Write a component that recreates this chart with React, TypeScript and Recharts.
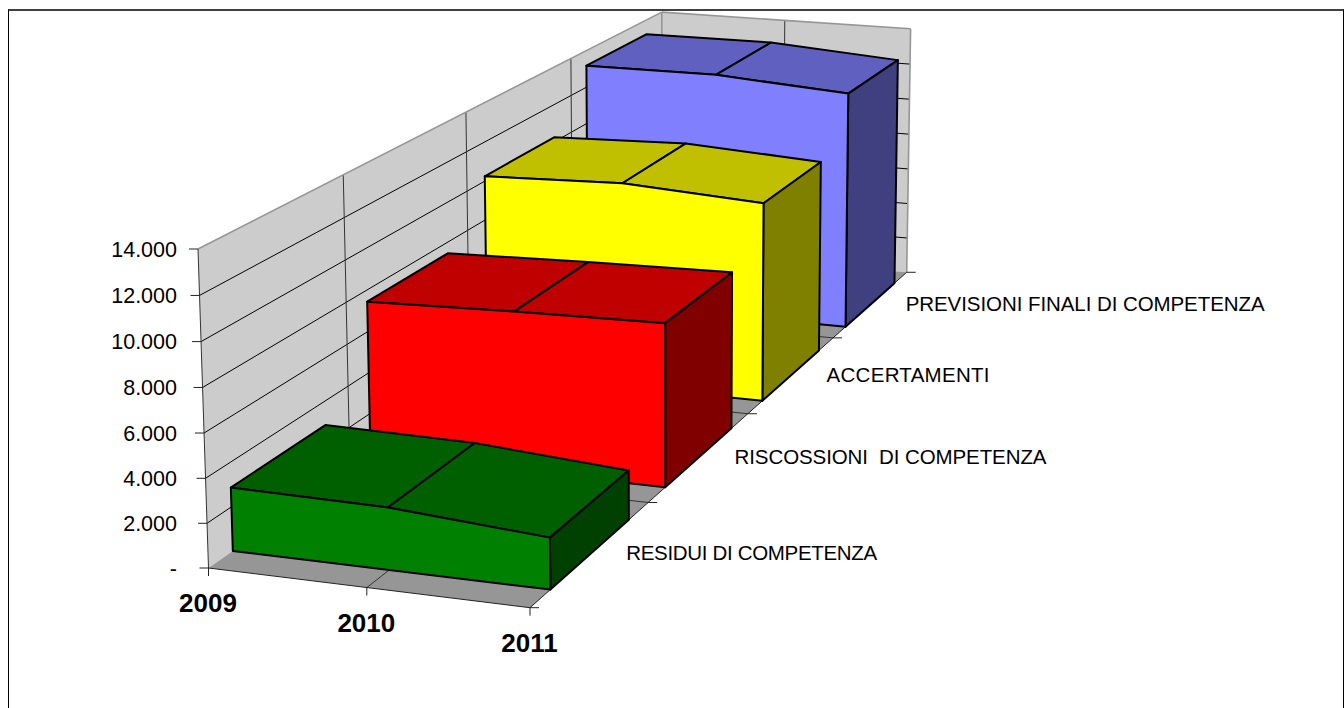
import { LineChart, Line, XAxis, YAxis } from "recharts";

const YEARS = ["2009", "2010", "2011"];
const RESIDUI = [2870, 2790, 2290];
const RISCOSSIONI = [7440, 7640, 7780];
const ACCERTAMENTI = [10250, 10480, 10065];
const PREVISIONI = [13180, 13190, 12700];
const VALUE_TICKS = [0, 2000, 4000, 6000, 8000, 10000, 12000, 14000];
const SERIES_NAMES = [
  "RESIDUI DI COMPETENZA",
  "RISCOSSIONI  DI COMPETENZA",
  "ACCERTAMENTI",
  "PREVISIONI FINALI DI COMPETENZA",
];
const SERIES_KEYS = ["residui", "riscossioni", "accertamenti", "previsioni"];

// front, top, side
const COLORS = [
  ["#008000", "#006000", "#004000"],
  ["#ff0000", "#c00000", "#800000"],
  ["#ffff00", "#c0c000", "#808000"],
  ["#8080ff", "#6060c0", "#404080"],
];

// the source squeezes its labels unevenly, so each one gets its own length
const LABEL_LENGTHS = [251, 312, 163, 359];

const rows = YEARS.map((year, i) => ({
  year,
  residui: RESIDUI[i],
  riscossioni: RISCOSSIONI[i],
  accertamenti: ACCERTAMENTI[i],
  previsioni: PREVISIONI[i],
}));

const WIDTH = 1344;
const HEIGHT = 708;
const PLOT = { left: 208.5, right: 530, top: 249, bottom: 568 };
const MAX_VALUE = 14000;
const FONT = "'Liberation Sans', Arial, sans-serif";

// camera: images of the box corners plus a perspective factor per direction
const A = [208.5, 568];
const B = [530, 607.7];
const C = [198, 249];
const G = [662, 250.5];
const SU = 0.97;
const SV = 1.36;
const SW = 0.978;

function project(u: number, v: number, w: number) {
  const den = 1 + u * (SU - 1) + v * (SV - 1) + w * (SW - 1);
  const at = (k: number) =>
    (A[k] + u * (SU * B[k] - A[k]) + v * (SV * G[k] - A[k]) + w * (SW * C[k] - A[k])) / den;
  return [at(0), at(1)];
}

const toU = (x: number) => (x - PLOT.left) / (PLOT.right - PLOT.left);
const toW = (y: number) => (PLOT.bottom - y) / (PLOT.bottom - PLOT.top);
const path = (pts: number[][]) => pts.map((p) => p.join(",")).join(" ");

function Seg({ from, to, color = "#000", width = 1 }: any) {
  return <line x1={from[0]} y1={from[1]} x2={to[0]} y2={to[1]} stroke={color} strokeWidth={width} />;
}

function Walls() {
  const depthLines = [0.25, 0.5, 0.75];
  return (
    <g>
      <polygon points={path([project(0, 0, 0), project(0, 1, 0), project(0, 1, 1), project(0, 0, 1)])} fill="#cccccc" />
      <polygon points={path([project(0, 1, 0), project(1, 1, 0), project(1, 1, 1), project(0, 1, 1)])} fill="#cccccc" />
      <polygon points={path([project(0, 0, 0), project(1, 0, 0), project(1, 1, 0), project(0, 1, 0)])} fill="#969696" />
      {VALUE_TICKS.slice(1, -1).map((t) => (
        <g key={t}>
          <Seg from={project(0, 0, t / MAX_VALUE)} to={project(0, 1, t / MAX_VALUE)} />
          <Seg from={project(0, 1, t / MAX_VALUE)} to={project(1, 1, t / MAX_VALUE)} />
        </g>
      ))}
      {depthLines.map((v) => (
        <g key={v}>
          <Seg from={project(0, v, 0)} to={project(0, v, 1)} color="#333" />
          <Seg from={project(0, v, 0)} to={project(1, v, 0)} color="#333" />
        </g>
      ))}
      <Seg from={project(0.5, 1, 0)} to={project(0.5, 1, 1)} color="#333" />
      <Seg from={project(0.5, 0, 0)} to={project(0.5, 1, 0)} color="#333" />
      <Seg from={project(0, 0, 1)} to={project(0, 1, 1)} color="#969696" width={1.6} />
      <Seg from={project(0, 1, 1)} to={project(1, 1, 1)} color="#969696" width={1.6} />
      <Seg from={project(1, 1, 1)} to={project(1, 1, 0)} color="#969696" width={1.6} />
      <Seg from={project(0, 1, 1)} to={project(0, 1, 0)} color="#969696" width={1.6} />
      <Seg from={project(0, 0, 0)} to={project(0, 0, 1)} color="#333" />
      <Seg from={project(0, 0, 0)} to={project(1, 0, 0)} color="#222" />
      <Seg from={project(1, 0, 0)} to={project(1, 1, 0)} color="#222" />
    </g>
  );
}

function Ribbon({ index, points }: { index: number; points: any[] }) {
  const middle = (index + 0.5) / 4 - 0.002;
  const near = middle - 0.083;
  const far = middle + 0.083;
  const grid = points.map((p) => [toU(p.x), toW(p.y)]);
  const [front, top, side] = COLORS[index];
  const last = grid[grid.length - 1];
  const edge = { stroke: "#000", strokeWidth: 2, strokeLinejoin: "round" as const };
  const labelAt = project(1, (index + 0.5) / 4, 0);
  return (
    <g>
      {grid.slice(1).map((p, i) => (
        <polygon
          key={i}
          points={path([
            project(grid[i][0], near, grid[i][1]),
            project(p[0], near, p[1]),
            project(p[0], far, p[1]),
            project(grid[i][0], far, grid[i][1]),
          ])}
          fill={top}
          {...edge}
        />
      ))}
      <polygon
        points={path([project(1, near, 0), project(1, far, 0), project(1, far, last[1]), project(1, near, last[1])])}
        fill={side}
        {...edge}
      />
      <polygon
        points={path([
          project(0, near, 0),
          ...grid.map((p) => project(p[0], near, p[1])),
          project(1, near, 0),
        ])}
        fill={front}
        {...edge}
      />
      <text
        x={labelAt[0] + 34.5}
        y={labelAt[1]}
        dy="0.36em"
        fontFamily={FONT}
        fontSize={20.5}
        textLength={LABEL_LENGTHS[index]}
        lengthAdjust="spacing"
        fill="#000"
        style={{ whiteSpace: "pre" }}
      >
        {SERIES_NAMES[index]}
      </text>
    </g>
  );
}

function SeriesTicks() {
  return (
    <g>
      {[0, 0.25, 0.5, 0.75, 1].map((v) => {
        const p = project(1, v, 0);
        return <Seg key={v} from={p} to={[p[0] + 9, p[1]]} color="#222" />;
      })}
    </g>
  );
}

function ValueTick({ y, payload }: any) {
  const p = project(0, 0, toW(y));
  const value = payload.value;
  return (
    <g>
      <Seg from={[p[0] - 9, p[1]]} to={p} color="#222" />
      <text x={177} y={p[1]} dy="0.36em" textAnchor="end" fontFamily={FONT} fontSize={21.5} fill="#000">
        {value === 0 ? "-" : value.toLocaleString("de-DE")}
      </text>
    </g>
  );
}

function YearTick({ x, payload }: any) {
  const p = project(toU(x), 0, 0);
  return (
    <g>
      <Seg from={p} to={[p[0], p[1] + 8]} color="#222" />
      <text x={p[0] - 0.5} y={p[1] + 35} dy="0.36em" textAnchor="middle" fontFamily={FONT} fontSize={26} fontWeight="bold" fill="#000">
        {payload.value}
      </text>
    </g>
  );
}

export default function App() {
  const drawOrder = [3, 2, 1, 0];
  return (
    <div style={{ position: "absolute", left: 0, top: 0, width: WIDTH, height: HEIGHT, background: "#fff", overflow: "hidden" }}>
      <div
        style={{
          position: "absolute",
          left: 8,
          top: 9,
          width: 1336,
          height: 699,
          boxSizing: "border-box",
          borderTop: "2px solid #404040",
          borderLeft: "1px solid #000",
          borderRight: "1px solid #000",
        }}
      />
      <div style={{ position: "absolute", left: 0, top: 0 }}>
        <LineChart
          width={WIDTH}
          height={HEIGHT}
          data={rows}
          margin={{ left: PLOT.left - 60, right: WIDTH - PLOT.right, top: PLOT.top, bottom: HEIGHT - PLOT.bottom - 30 }}
        >
          <XAxis dataKey="year" height={30} interval={0} axisLine={false} tickLine={false} tick={YearTick} />
          <YAxis
            width={60}
            domain={[0, MAX_VALUE]}
            ticks={VALUE_TICKS}
            interval={0}
            axisLine={false}
            tickLine={false}
            tick={ValueTick}
          />
          {drawOrder.map((s) => (
            <Line
              key={SERIES_KEYS[s]}
              dataKey={SERIES_KEYS[s]}
              stroke="none"
              isAnimationActive={false}
              activeDot={false}
              dot={(props: any) => {
                if (props.index !== 0) return <g key={props.key} />;
                return (
                  <g key={props.key}>
                    {s === 3 && <Walls />}
                    {s === 3 && <SeriesTicks />}
                    <Ribbon index={s} points={props.points} />
                  </g>
                );
              }}
            />
          ))}
        </LineChart>
      </div>
    </div>
  );
}
